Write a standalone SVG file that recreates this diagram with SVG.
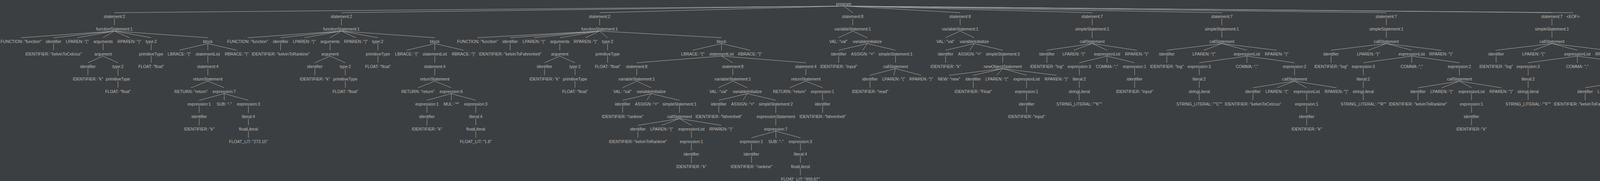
<svg xmlns="http://www.w3.org/2000/svg" width="4304" height="463" viewBox="0 0 4304 463">
<style>
text{font-family:"Liberation Sans",Arial,sans-serif;font-size:10.5px;fill:#bbbbbb;text-anchor:middle}
#edges line{stroke:#adadad;stroke-width:1}
</style>
<rect width="4304" height="463" fill="#3c3f41"/>
<g id="edges">
<line x1="2160" y1="15.5" x2="293" y2="32.5"/><line x1="2160" y1="15.5" x2="874" y2="32.5"/><line x1="2160" y1="15.5" x2="1535" y2="32.5"/><line x1="2160" y1="15.5" x2="2183" y2="32.5"/><line x1="2160" y1="15.5" x2="2458" y2="32.5"/><line x1="2160" y1="15.5" x2="2796" y2="32.5"/><line x1="2160" y1="15.5" x2="3128" y2="32.5"/><line x1="2160" y1="15.5" x2="3549" y2="32.5"/><line x1="2160" y1="15.5" x2="3973" y2="32.5"/><line x1="2160" y1="15.5" x2="4027" y2="32.5"/>
<line x1="293" y1="47.5" x2="293" y2="64.5"/>
<line x1="293" y1="79.5" x2="54" y2="96.5"/><line x1="293" y1="79.5" x2="137" y2="96.5"/><line x1="293" y1="79.5" x2="198" y2="96.5"/><line x1="293" y1="79.5" x2="264" y2="96.5"/><line x1="293" y1="79.5" x2="331" y2="96.5"/><line x1="293" y1="79.5" x2="387" y2="96.5"/><line x1="293" y1="79.5" x2="532" y2="96.5"/>
<line x1="137" y1="111.5" x2="137" y2="128.5"/><line x1="264" y1="111.5" x2="264" y2="128.5"/><line x1="387" y1="111.5" x2="387" y2="128.5"/>
<line x1="532" y1="111.5" x2="459" y2="128.5"/><line x1="532" y1="111.5" x2="532" y2="128.5"/><line x1="532" y1="111.5" x2="606" y2="128.5"/>
<line x1="264" y1="143.5" x2="225" y2="160.5"/><line x1="264" y1="143.5" x2="302" y2="160.5"/><line x1="387" y1="143.5" x2="387" y2="160.5"/><line x1="532" y1="143.5" x2="532" y2="160.5"/>
<line x1="225" y1="175.5" x2="225" y2="192.5"/><line x1="302" y1="175.5" x2="302" y2="192.5"/><line x1="532" y1="175.5" x2="532" y2="192.5"/>
<line x1="302" y1="207.5" x2="302" y2="224.5"/><line x1="532" y1="207.5" x2="489" y2="224.5"/><line x1="532" y1="207.5" x2="574" y2="224.5"/>
<line x1="574" y1="239.5" x2="510" y2="256.5"/><line x1="574" y1="239.5" x2="574" y2="256.5"/><line x1="574" y1="239.5" x2="636" y2="256.5"/>
<line x1="510" y1="271.5" x2="510" y2="288.5"/><line x1="636" y1="271.5" x2="636" y2="288.5"/>
<line x1="510" y1="303.5" x2="510" y2="320.5"/><line x1="636" y1="303.5" x2="636" y2="320.5"/>
<line x1="636" y1="335.5" x2="636" y2="352.5"/>
<line x1="874" y1="47.5" x2="874" y2="64.5"/>
<line x1="874" y1="79.5" x2="634" y2="96.5"/><line x1="874" y1="79.5" x2="718.5" y2="96.5"/><line x1="874" y1="79.5" x2="779" y2="96.5"/><line x1="874" y1="79.5" x2="845" y2="96.5"/><line x1="874" y1="79.5" x2="911" y2="96.5"/><line x1="874" y1="79.5" x2="967" y2="96.5"/><line x1="874" y1="79.5" x2="1113" y2="96.5"/>
<line x1="718.5" y1="111.5" x2="718.5" y2="128.5"/><line x1="845" y1="111.5" x2="845" y2="128.5"/><line x1="967" y1="111.5" x2="967.5" y2="128.5"/>
<line x1="1113" y1="111.5" x2="1041" y2="128.5"/><line x1="1113" y1="111.5" x2="1113" y2="128.5"/><line x1="1113" y1="111.5" x2="1187" y2="128.5"/>
<line x1="845" y1="143.5" x2="806" y2="160.5"/><line x1="845" y1="143.5" x2="884" y2="160.5"/><line x1="967.5" y1="143.5" x2="967.5" y2="160.5"/><line x1="1113" y1="143.5" x2="1113" y2="160.5"/>
<line x1="806" y1="175.5" x2="806" y2="192.5"/><line x1="884" y1="175.5" x2="884" y2="192.5"/><line x1="1113" y1="175.5" x2="1113" y2="192.5"/>
<line x1="884" y1="207.5" x2="884" y2="224.5"/><line x1="1113" y1="207.5" x2="1070" y2="224.5"/><line x1="1113" y1="207.5" x2="1155" y2="224.5"/>
<line x1="1155" y1="239.5" x2="1093" y2="256.5"/><line x1="1155" y1="239.5" x2="1155.5" y2="256.5"/><line x1="1155" y1="239.5" x2="1218" y2="256.5"/>
<line x1="1093" y1="271.5" x2="1093" y2="288.5"/><line x1="1218" y1="271.5" x2="1218" y2="288.5"/>
<line x1="1093" y1="303.5" x2="1093" y2="320.5"/><line x1="1218" y1="303.5" x2="1218" y2="320.5"/>
<line x1="1218" y1="335.5" x2="1218" y2="352.5"/>
<line x1="1535" y1="47.5" x2="1535" y2="64.5"/>
<line x1="1535" y1="79.5" x2="1222.5" y2="96.5"/><line x1="1535" y1="79.5" x2="1306" y2="96.5"/><line x1="1535" y1="79.5" x2="1367" y2="96.5"/><line x1="1535" y1="79.5" x2="1433" y2="96.5"/><line x1="1535" y1="79.5" x2="1499" y2="96.5"/><line x1="1535" y1="79.5" x2="1555.5" y2="96.5"/><line x1="1535" y1="79.5" x2="1847" y2="96.5"/>
<line x1="1306" y1="111.5" x2="1306" y2="128.5"/><line x1="1433" y1="111.5" x2="1433" y2="128.5"/><line x1="1555.5" y1="111.5" x2="1555.5" y2="128.5"/>
<line x1="1847" y1="111.5" x2="1773.5" y2="128.5"/><line x1="1847" y1="111.5" x2="1847" y2="128.5"/><line x1="1847" y1="111.5" x2="1920" y2="128.5"/>
<line x1="1433" y1="143.5" x2="1394" y2="160.5"/><line x1="1433" y1="143.5" x2="1472" y2="160.5"/><line x1="1555.5" y1="143.5" x2="1555.5" y2="160.5"/>
<line x1="1847" y1="143.5" x2="1630" y2="160.5"/><line x1="1847" y1="143.5" x2="1876" y2="160.5"/><line x1="1847" y1="143.5" x2="2063" y2="160.5"/>
<line x1="1394" y1="175.5" x2="1394" y2="192.5"/><line x1="1472" y1="175.5" x2="1472" y2="192.5"/><line x1="1630" y1="175.5" x2="1630" y2="192.5"/><line x1="1876" y1="175.5" x2="1876" y2="192.5"/><line x1="2063" y1="175.5" x2="2063" y2="192.5"/>
<line x1="1472" y1="207.5" x2="1472" y2="224.5"/>
<line x1="1630" y1="207.5" x2="1593.5" y2="224.5"/><line x1="1630" y1="207.5" x2="1667" y2="224.5"/>
<line x1="1876" y1="207.5" x2="1839.3" y2="224.5"/><line x1="1876" y1="207.5" x2="1913" y2="224.5"/>
<line x1="2063" y1="207.5" x2="2021.5" y2="224.5"/><line x1="2063" y1="207.5" x2="2105.5" y2="224.5"/>
<line x1="1667" y1="239.5" x2="1594" y2="256.5"/><line x1="1667" y1="239.5" x2="1655.7" y2="256.5"/><line x1="1667" y1="239.5" x2="1739.5" y2="256.5"/>
<line x1="1913" y1="239.5" x2="1840" y2="256.5"/><line x1="1913" y1="239.5" x2="1901.7" y2="256.5"/><line x1="1913" y1="239.5" x2="1986" y2="256.5"/>
<line x1="2105.5" y1="239.5" x2="2106" y2="256.5"/>
<line x1="1594" y1="271.5" x2="1594" y2="288.5"/><line x1="1739.5" y1="271.5" x2="1739.5" y2="288.5"/><line x1="1840" y1="271.5" x2="1840" y2="288.5"/><line x1="1986" y1="271.5" x2="1986" y2="288.5"/><line x1="2106" y1="271.5" x2="2106" y2="288.5"/>
<line x1="1739.5" y1="303.5" x2="1633" y2="320.5"/><line x1="1739.5" y1="303.5" x2="1694" y2="320.5"/><line x1="1739.5" y1="303.5" x2="1770" y2="320.5"/><line x1="1739.5" y1="303.5" x2="1846.3" y2="320.5"/>
<line x1="1986" y1="303.5" x2="1986" y2="320.5"/>
<line x1="1633" y1="335.5" x2="1633" y2="352.5"/><line x1="1770" y1="335.5" x2="1770" y2="352.5"/>
<line x1="1986" y1="335.5" x2="1923.5" y2="352.5"/><line x1="1986" y1="335.5" x2="1986.5" y2="352.5"/><line x1="1986" y1="335.5" x2="2049" y2="352.5"/>
<line x1="1770" y1="367.5" x2="1770" y2="384.5"/><line x1="1923.5" y1="367.5" x2="1923.7" y2="384.5"/><line x1="2049" y1="367.5" x2="2049" y2="384.5"/>
<line x1="1770" y1="399.5" x2="1770" y2="416.5"/><line x1="1923.7" y1="399.5" x2="1923.8" y2="416.5"/><line x1="2049" y1="399.5" x2="2049" y2="416.5"/>
<line x1="2049" y1="431.5" x2="2049" y2="448.5"/>
<line x1="2183" y1="47.5" x2="2183" y2="64.5"/>
<line x1="2183" y1="79.5" x2="2146.2" y2="96.5"/><line x1="2183" y1="79.5" x2="2220" y2="96.5"/>
<line x1="2220" y1="111.5" x2="2147" y2="128.5"/><line x1="2220" y1="111.5" x2="2208.7" y2="128.5"/><line x1="2220" y1="111.5" x2="2292.5" y2="128.5"/>
<line x1="2147" y1="143.5" x2="2147" y2="160.5"/><line x1="2292.5" y1="143.5" x2="2292.5" y2="160.5"/>
<line x1="2292.5" y1="175.5" x2="2227" y2="192.5"/><line x1="2292.5" y1="175.5" x2="2288" y2="192.5"/><line x1="2292.5" y1="175.5" x2="2358" y2="192.5"/>
<line x1="2227" y1="207.5" x2="2227.5" y2="224.5"/>
<line x1="2458" y1="47.5" x2="2458" y2="64.5"/>
<line x1="2458" y1="79.5" x2="2420.2" y2="96.5"/><line x1="2458" y1="79.5" x2="2494" y2="96.5"/>
<line x1="2494" y1="111.5" x2="2420.7" y2="128.5"/><line x1="2494" y1="111.5" x2="2482.5" y2="128.5"/><line x1="2494" y1="111.5" x2="2567" y2="128.5"/>
<line x1="2420.7" y1="143.5" x2="2420.8" y2="160.5"/><line x1="2567" y1="143.5" x2="2567" y2="160.5"/>
<line x1="2567" y1="175.5" x2="2429.5" y2="192.5"/><line x1="2567" y1="175.5" x2="2491.5" y2="192.5"/><line x1="2567" y1="175.5" x2="2552" y2="192.5"/><line x1="2567" y1="175.5" x2="2628" y2="192.5"/><line x1="2567" y1="175.5" x2="2704.5" y2="192.5"/>
<line x1="2491.5" y1="207.5" x2="2491.5" y2="224.5"/><line x1="2628" y1="207.5" x2="2628" y2="224.5"/>
<line x1="2628" y1="239.5" x2="2628" y2="256.5"/><line x1="2628" y1="271.5" x2="2628" y2="288.5"/>
<line x1="2796" y1="47.5" x2="2796" y2="64.5"/><line x1="2796" y1="79.5" x2="2796" y2="96.5"/>
<line x1="2796" y1="111.5" x2="2680" y2="128.5"/><line x1="2796" y1="111.5" x2="2749" y2="128.5"/><line x1="2796" y1="111.5" x2="2834" y2="128.5"/><line x1="2796" y1="111.5" x2="2910.3" y2="128.5"/>
<line x1="2680" y1="143.5" x2="2680" y2="160.5"/>
<line x1="2834" y1="143.5" x2="2763" y2="160.5"/><line x1="2834" y1="143.5" x2="2834" y2="160.5"/><line x1="2834" y1="143.5" x2="2904.5" y2="160.5"/>
<line x1="2763" y1="175.5" x2="2763" y2="192.5"/><line x1="2904.5" y1="175.5" x2="2904.7" y2="192.5"/>
<line x1="2763" y1="207.5" x2="2763" y2="224.5"/><line x1="2904.7" y1="207.5" x2="2904.7" y2="224.5"/>
<line x1="2763" y1="239.5" x2="2762.5" y2="256.5"/>
<line x1="3128" y1="47.5" x2="3128" y2="64.5"/><line x1="3128" y1="79.5" x2="3128" y2="96.5"/>
<line x1="3128" y1="111.5" x2="2987" y2="128.5"/><line x1="3128" y1="111.5" x2="3082" y2="128.5"/><line x1="3128" y1="111.5" x2="3192" y2="128.5"/><line x1="3128" y1="111.5" x2="3268.3" y2="128.5"/>
<line x1="2987" y1="143.5" x2="2987" y2="160.5"/>
<line x1="3192" y1="143.5" x2="3070" y2="160.5"/><line x1="3192" y1="143.5" x2="3192" y2="160.5"/><line x1="3192" y1="143.5" x2="3314" y2="160.5"/>
<line x1="3070" y1="175.5" x2="3070" y2="192.5"/><line x1="3314" y1="175.5" x2="3314" y2="192.5"/>
<line x1="3070" y1="207.5" x2="3070" y2="224.5"/>
<line x1="3314" y1="207.5" x2="3207.5" y2="224.5"/><line x1="3314" y1="207.5" x2="3269" y2="224.5"/><line x1="3314" y1="207.5" x2="3345" y2="224.5"/><line x1="3314" y1="207.5" x2="3421.5" y2="224.5"/>
<line x1="3070" y1="239.5" x2="3070" y2="256.5"/><line x1="3207.5" y1="239.5" x2="3207.5" y2="256.5"/><line x1="3345" y1="239.5" x2="3345" y2="256.5"/>
<line x1="3345" y1="271.5" x2="3345" y2="288.5"/><line x1="3345" y1="303.5" x2="3345" y2="320.5"/>
<line x1="3549" y1="47.5" x2="3549" y2="64.5"/><line x1="3549" y1="79.5" x2="3549" y2="96.5"/>
<line x1="3549" y1="111.5" x2="3407.5" y2="128.5"/><line x1="3549" y1="111.5" x2="3503" y2="128.5"/><line x1="3549" y1="111.5" x2="3614" y2="128.5"/><line x1="3549" y1="111.5" x2="3689.3" y2="128.5"/>
<line x1="3407.5" y1="143.5" x2="3407.5" y2="160.5"/>
<line x1="3614" y1="143.5" x2="3490" y2="160.5"/><line x1="3614" y1="143.5" x2="3614" y2="160.5"/><line x1="3614" y1="143.5" x2="3736" y2="160.5"/>
<line x1="3490" y1="175.5" x2="3490" y2="192.5"/><line x1="3736" y1="175.5" x2="3736.3" y2="192.5"/>
<line x1="3490" y1="207.5" x2="3490" y2="224.5"/>
<line x1="3736.3" y1="207.5" x2="3630" y2="224.5"/><line x1="3736.3" y1="207.5" x2="3691" y2="224.5"/><line x1="3736.3" y1="207.5" x2="3767" y2="224.5"/><line x1="3736.3" y1="207.5" x2="3843.3" y2="224.5"/>
<line x1="3490" y1="239.5" x2="3490.5" y2="256.5"/><line x1="3630" y1="239.5" x2="3630" y2="256.5"/><line x1="3767" y1="239.5" x2="3767" y2="256.5"/>
<line x1="3767" y1="271.5" x2="3767" y2="288.5"/><line x1="3767" y1="303.5" x2="3767" y2="320.5"/>
<line x1="3973" y1="47.5" x2="3973" y2="64.5"/><line x1="3973" y1="79.5" x2="3973" y2="96.5"/>
<line x1="3973" y1="111.5" x2="3830" y2="128.5"/><line x1="3973" y1="111.5" x2="3926" y2="128.5"/><line x1="3973" y1="111.5" x2="4038" y2="128.5"/><line x1="3973" y1="111.5" x2="4114.5" y2="128.5"/>
<line x1="3830" y1="143.5" x2="3830" y2="160.5"/>
<line x1="4038" y1="143.5" x2="3912" y2="160.5"/><line x1="4038" y1="143.5" x2="4038" y2="160.5"/><line x1="4038" y1="143.5" x2="4164" y2="160.5"/>
<line x1="3912" y1="175.5" x2="3912" y2="192.5"/><line x1="4164" y1="175.5" x2="4164" y2="192.5"/>
<line x1="3912" y1="207.5" x2="3912" y2="224.5"/>
<line x1="4164" y1="207.5" x2="4058" y2="224.5"/><line x1="4164" y1="207.5" x2="4119" y2="224.5"/><line x1="4164" y1="207.5" x2="4195" y2="224.5"/><line x1="4164" y1="207.5" x2="4271.3" y2="224.5"/>
<line x1="3912" y1="239.5" x2="3912" y2="256.5"/><line x1="4058" y1="239.5" x2="4058" y2="256.5"/><line x1="4195" y1="239.5" x2="4195" y2="256.5"/>
<line x1="4195" y1="271.5" x2="4195" y2="288.5"/><line x1="4195" y1="303.5" x2="4195" y2="320.5"/>
</g>
<g id="nodes">
<g id="n0"><text x="2160" y="14">program</text></g>
<g id="n1"><text x="293" y="46">statement:2</text></g>
<g id="n2"><text x="293" y="78">functionStatement:1</text></g>
<g id="n3"><text x="54" y="110">FUNCTION:·"function"</text></g>
<g id="n4"><text x="137" y="110">identifier</text></g>
<g id="n5"><text x="198" y="110">LPAREN:·"("</text></g>
<g id="n6"><text x="264" y="110">arguments</text></g>
<g id="n7"><text x="331" y="110">RPAREN:·")"</text></g>
<g id="n8"><text x="387" y="110">type:2</text></g>
<g id="n9"><text x="532" y="110">block</text></g>
<g id="n10"><text x="137" y="142">IDENTIFIER:·"kelvinToCelcius"</text></g>
<g id="n11"><text x="264" y="142">argument</text></g>
<g id="n12"><text x="225" y="174">identifier</text></g>
<g id="n13"><text x="302" y="174">type:2</text></g>
<g id="n14"><text x="225" y="206">IDENTIFIER:·"k"</text></g>
<g id="n15"><text x="302" y="206">primitiveType</text></g>
<g id="n16"><text x="302" y="238">FLOAT:·"float"</text></g>
<g id="n17"><text x="387" y="142">primitiveType</text></g>
<g id="n18"><text x="387" y="174">FLOAT:·"float"</text></g>
<g id="n19"><text x="459" y="142">LBRACE:·"{"</text></g>
<g id="n20"><text x="532" y="142">statementList</text></g>
<g id="n21"><text x="606" y="142">RBRACE:·"}"</text></g>
<g id="n22"><text x="532" y="174">statement:4</text></g>
<g id="n23"><text x="532" y="206">returnStatement</text></g>
<g id="n24"><text x="489" y="238">RETURN:·"return"</text></g>
<g id="n25"><text x="574" y="238">expression:7</text></g>
<g id="n26"><text x="510" y="270">expression:1</text></g>
<g id="n27"><text x="574" y="270">SUB:·"-"</text></g>
<g id="n28"><text x="636" y="270">expression:3</text></g>
<g id="n29"><text x="510" y="302">identifier</text></g>
<g id="n30"><text x="510" y="334">IDENTIFIER:·"k"</text></g>
<g id="n31"><text x="636" y="302">literal:4</text></g>
<g id="n32"><text x="636" y="334">floatLiteral</text></g>
<g id="n33"><text x="636" y="366">FLOAT_LIT:·"273.15"</text></g>
<g id="n34"><text x="874" y="46">statement:2</text></g>
<g id="n35"><text x="874" y="78">functionStatement:1</text></g>
<g id="n36"><text x="634" y="110">FUNCTION:·"function"</text></g>
<g id="n37"><text x="718.5" y="110">identifier</text></g>
<g id="n38"><text x="779" y="110">LPAREN:·"("</text></g>
<g id="n39"><text x="845" y="110">arguments</text></g>
<g id="n40"><text x="911" y="110">RPAREN:·")"</text></g>
<g id="n41"><text x="967" y="110">type:2</text></g>
<g id="n42"><text x="1113" y="110">block</text></g>
<g id="n43"><text x="718.5" y="142">IDENTIFIER:·"kelvinToRankine"</text></g>
<g id="n44"><text x="845" y="142">argument</text></g>
<g id="n45"><text x="806" y="174">identifier</text></g>
<g id="n46"><text x="884" y="174">type:2</text></g>
<g id="n47"><text x="806" y="206">IDENTIFIER:·"k"</text></g>
<g id="n48"><text x="884" y="206">primitiveType</text></g>
<g id="n49"><text x="884" y="238">FLOAT:·"float"</text></g>
<g id="n50"><text x="967.5" y="142">primitiveType</text></g>
<g id="n51"><text x="967.5" y="174">FLOAT:·"float"</text></g>
<g id="n52"><text x="1041" y="142">LBRACE:·"{"</text></g>
<g id="n53"><text x="1113" y="142">statementList</text></g>
<g id="n54"><text x="1187" y="142">RBRACE:·"}"</text></g>
<g id="n55"><text x="1113" y="174">statement:4</text></g>
<g id="n56"><text x="1113" y="206">returnStatement</text></g>
<g id="n57"><text x="1070" y="238">RETURN:·"return"</text></g>
<g id="n58"><text x="1155" y="238">expression:6</text></g>
<g id="n59"><text x="1093" y="270">expression:1</text></g>
<g id="n60"><text x="1155.5" y="270">MUL:·"*"</text></g>
<g id="n61"><text x="1218" y="270">expression:3</text></g>
<g id="n62"><text x="1093" y="302">identifier</text></g>
<g id="n63"><text x="1093" y="334">IDENTIFIER:·"k"</text></g>
<g id="n64"><text x="1218" y="302">literal:4</text></g>
<g id="n65"><text x="1218" y="334">floatLiteral</text></g>
<g id="n66"><text x="1218" y="366">FLOAT_LIT:·"1.8"</text></g>
<g id="n67"><text x="1535" y="46">statement:2</text></g>
<g id="n68"><text x="1535" y="78">functionStatement:1</text></g>
<g id="n69"><text x="1222.5" y="110">FUNCTION:·"function"</text></g>
<g id="n70"><text x="1306" y="110">identifier</text></g>
<g id="n71"><text x="1367" y="110">LPAREN:·"("</text></g>
<g id="n72"><text x="1433" y="110">arguments</text></g>
<g id="n73"><text x="1499" y="110">RPAREN:·")"</text></g>
<g id="n74"><text x="1555.5" y="110">type:2</text></g>
<g id="n75"><text x="1847" y="110">block</text></g>
<g id="n76"><text x="1306" y="142">IDENTIFIER:·"kelvinToFahrenheit"</text></g>
<g id="n77"><text x="1433" y="142">argument</text></g>
<g id="n78"><text x="1394" y="174">identifier</text></g>
<g id="n79"><text x="1472" y="174">type:2</text></g>
<g id="n80"><text x="1394" y="206">IDENTIFIER:·"k"</text></g>
<g id="n81"><text x="1472" y="206">primitiveType</text></g>
<g id="n82"><text x="1472" y="238">FLOAT:·"float"</text></g>
<g id="n83"><text x="1555.5" y="142">primitiveType</text></g>
<g id="n84"><text x="1555.5" y="174">FLOAT:·"float"</text></g>
<g id="n85"><text x="1773.5" y="142">LBRACE:·"{"</text></g>
<g id="n86"><text x="1847" y="142">statementList</text></g>
<g id="n87"><text x="1920" y="142">RBRACE:·"}"</text></g>
<g id="n88"><text x="1630" y="174">statement:8</text></g>
<g id="n89"><text x="1630" y="206">variableStatement:1</text></g>
<g id="n90"><text x="1593.5" y="238">VAL:·"val"</text></g>
<g id="n91"><text x="1667" y="238">variableInitialize</text></g>
<g id="n92"><text x="1594" y="270">identifier</text></g>
<g id="n93"><text x="1655.7" y="270">ASSIGN:·"="</text></g>
<g id="n94"><text x="1739.5" y="270">simpleStatement:1</text></g>
<g id="n95"><text x="1594" y="302">IDENTIFIER:·"rankine"</text></g>
<g id="n96"><text x="1739.5" y="302">callStatement</text></g>
<g id="n97"><text x="1633" y="334">identifier</text></g>
<g id="n98"><text x="1694" y="334">LPAREN:·"("</text></g>
<g id="n99"><text x="1770" y="334">expressionList</text></g>
<g id="n100"><text x="1846.3" y="334">RPAREN:·")"</text></g>
<g id="n101"><text x="1633" y="366">IDENTIFIER:·"kelvinToRankine"</text></g>
<g id="n102"><text x="1770" y="366">expression:1</text></g>
<g id="n103"><text x="1770" y="398">identifier</text></g>
<g id="n104"><text x="1770" y="430">IDENTIFIER:·"k"</text></g>
<g id="n105"><text x="1876" y="174">statement:8</text></g>
<g id="n106"><text x="1876" y="206">variableStatement:1</text></g>
<g id="n107"><text x="1839.3" y="238">VAL:·"val"</text></g>
<g id="n108"><text x="1913" y="238">variableInitialize</text></g>
<g id="n109"><text x="1840" y="270">identifier</text></g>
<g id="n110"><text x="1901.7" y="270">ASSIGN:·"="</text></g>
<g id="n111"><text x="1986" y="270">simpleStatement:2</text></g>
<g id="n112"><text x="1840" y="302">IDENTIFIER:·"fahrenheit"</text></g>
<g id="n113"><text x="1986" y="302">expressionStatement</text></g>
<g id="n114"><text x="1986" y="334">expression:7</text></g>
<g id="n115"><text x="1923.5" y="366">expression:1</text></g>
<g id="n116"><text x="1986.5" y="366">SUB:·"-"</text></g>
<g id="n117"><text x="2049" y="366">expression:3</text></g>
<g id="n118"><text x="1923.7" y="398">identifier</text></g>
<g id="n119"><text x="1923.8" y="430">IDENTIFIER:·"rankine"</text></g>
<g id="n120"><text x="2049" y="398">literal:4</text></g>
<g id="n121"><text x="2049" y="430">floatLiteral</text></g>
<g id="n122"><text x="2049" y="462">FLOAT_LIT:·"459.67"</text></g>
<g id="n123"><text x="2063" y="174">statement:4</text></g>
<g id="n124"><text x="2063" y="206">returnStatement</text></g>
<g id="n125"><text x="2021.5" y="238">RETURN:·"return"</text></g>
<g id="n126"><text x="2105.5" y="238">expression:1</text></g>
<g id="n127"><text x="2106" y="270">identifier</text></g>
<g id="n128"><text x="2106" y="302">IDENTIFIER:·"fahrenheit"</text></g>
<g id="n129"><text x="2183" y="46">statement:8</text></g>
<g id="n130"><text x="2183" y="78">variableStatement:1</text></g>
<g id="n131"><text x="2146.2" y="110">VAL:·"val"</text></g>
<g id="n132"><text x="2220" y="110">variableInitialize</text></g>
<g id="n133"><text x="2147" y="142">identifier</text></g>
<g id="n134"><text x="2208.7" y="142">ASSIGN:·"="</text></g>
<g id="n135"><text x="2292.5" y="142">simpleStatement:1</text></g>
<g id="n136"><text x="2147" y="174">IDENTIFIER:·"input"</text></g>
<g id="n137"><text x="2292.5" y="174">callStatement</text></g>
<g id="n138"><text x="2227" y="206">identifier</text></g>
<g id="n139"><text x="2288" y="206">LPAREN:·"("</text></g>
<g id="n140"><text x="2358" y="206">RPAREN:·")"</text></g>
<g id="n141"><text x="2227.5" y="238">IDENTIFIER:·"read"</text></g>
<g id="n142"><text x="2458" y="46">statement:8</text></g>
<g id="n143"><text x="2458" y="78">variableStatement:1</text></g>
<g id="n144"><text x="2420.2" y="110">VAL:·"val"</text></g>
<g id="n145"><text x="2494" y="110">variableInitialize</text></g>
<g id="n146"><text x="2420.7" y="142">identifier</text></g>
<g id="n147"><text x="2482.5" y="142">ASSIGN:·"="</text></g>
<g id="n148"><text x="2567" y="142">simpleStatement:3</text></g>
<g id="n149"><text x="2420.8" y="174">IDENTIFIER:·"k"</text></g>
<g id="n150"><text x="2567" y="174">newObjectStatement</text></g>
<g id="n151"><text x="2429.5" y="206">NEW:·"new"</text></g>
<g id="n152"><text x="2491.5" y="206">identifier</text></g>
<g id="n153"><text x="2552" y="206">LPAREN:·"("</text></g>
<g id="n154"><text x="2628" y="206">expressionList</text></g>
<g id="n155"><text x="2704.5" y="206">RPAREN:·")"</text></g>
<g id="n156"><text x="2491.5" y="238">IDENTIFIER:·"Float"</text></g>
<g id="n157"><text x="2628" y="238">expression:1</text></g>
<g id="n158"><text x="2628" y="270">identifier</text></g>
<g id="n159"><text x="2628" y="302">IDENTIFIER:·"input"</text></g>
<g id="n160"><text x="2796" y="46">statement:7</text></g>
<g id="n161"><text x="2796" y="78">simpleStatement:1</text></g>
<g id="n162"><text x="2796" y="110">callStatement</text></g>
<g id="n163"><text x="2680" y="142">identifier</text></g>
<g id="n164"><text x="2749" y="142">LPAREN:·"("</text></g>
<g id="n165"><text x="2834" y="142">expressionList</text></g>
<g id="n166"><text x="2910.3" y="142">RPAREN:·")"</text></g>
<g id="n167"><text x="2680" y="174">IDENTIFIER:·"log"</text></g>
<g id="n168"><text x="2763" y="174">expression:3</text></g>
<g id="n169"><text x="2834" y="174">COMMA:·","</text></g>
<g id="n170"><text x="2904.5" y="174">expression:1</text></g>
<g id="n171"><text x="2763" y="206">literal:2</text></g>
<g id="n172"><text x="2763" y="238">stringLiteral</text></g>
<g id="n173"><text x="2762.5" y="270">STRING_LITERAL:·""K""</text></g>
<g id="n174"><text x="2904.7" y="206">identifier</text></g>
<g id="n175"><text x="2904.7" y="238">IDENTIFIER:·"input"</text></g>
<g id="n176"><text x="3128" y="46">statement:7</text></g>
<g id="n177"><text x="3128" y="78">simpleStatement:1</text></g>
<g id="n178"><text x="3128" y="110">callStatement</text></g>
<g id="n179"><text x="2987" y="142">identifier</text></g>
<g id="n180"><text x="3082" y="142">LPAREN:·"("</text></g>
<g id="n181"><text x="3192" y="142">expressionList</text></g>
<g id="n182"><text x="3268.3" y="142">RPAREN:·")"</text></g>
<g id="n183"><text x="2987" y="174">IDENTIFIER:·"log"</text></g>
<g id="n184"><text x="3070" y="174">expression:3</text></g>
<g id="n185"><text x="3192" y="174">COMMA:·","</text></g>
<g id="n186"><text x="3314" y="174">expression:2</text></g>
<g id="n187"><text x="3070" y="206">literal:2</text></g>
<g id="n188"><text x="3070" y="238">stringLiteral</text></g>
<g id="n189"><text x="3070" y="270">STRING_LITERAL:·""C""</text></g>
<g id="n190"><text x="3314" y="206">callStatement</text></g>
<g id="n191"><text x="3207.5" y="238">identifier</text></g>
<g id="n192"><text x="3269" y="238">LPAREN:·"("</text></g>
<g id="n193"><text x="3345" y="238">expressionList</text></g>
<g id="n194"><text x="3421.5" y="238">RPAREN:·")"</text></g>
<g id="n195"><text x="3207.5" y="270">IDENTIFIER:·"kelvinToCelcius"</text></g>
<g id="n196"><text x="3345" y="270">expression:1</text></g>
<g id="n197"><text x="3345" y="302">identifier</text></g>
<g id="n198"><text x="3345" y="334">IDENTIFIER:·"k"</text></g>
<g id="n199"><text x="3549" y="46">statement:7</text></g>
<g id="n200"><text x="3549" y="78">simpleStatement:1</text></g>
<g id="n201"><text x="3549" y="110">callStatement</text></g>
<g id="n202"><text x="3407.5" y="142">identifier</text></g>
<g id="n203"><text x="3503" y="142">LPAREN:·"("</text></g>
<g id="n204"><text x="3614" y="142">expressionList</text></g>
<g id="n205"><text x="3689.3" y="142">RPAREN:·")"</text></g>
<g id="n206"><text x="3407.5" y="174">IDENTIFIER:·"log"</text></g>
<g id="n207"><text x="3490" y="174">expression:3</text></g>
<g id="n208"><text x="3614" y="174">COMMA:·","</text></g>
<g id="n209"><text x="3736" y="174">expression:2</text></g>
<g id="n210"><text x="3490" y="206">literal:2</text></g>
<g id="n211"><text x="3490" y="238">stringLiteral</text></g>
<g id="n212"><text x="3490.5" y="270">STRING_LITERAL:·""R""</text></g>
<g id="n213"><text x="3736.3" y="206">callStatement</text></g>
<g id="n214"><text x="3630" y="238">identifier</text></g>
<g id="n215"><text x="3691" y="238">LPAREN:·"("</text></g>
<g id="n216"><text x="3767" y="238">expressionList</text></g>
<g id="n217"><text x="3843.3" y="238">RPAREN:·")"</text></g>
<g id="n218"><text x="3630" y="270">IDENTIFIER:·"kelvinToRankine"</text></g>
<g id="n219"><text x="3767" y="270">expression:1</text></g>
<g id="n220"><text x="3767" y="302">identifier</text></g>
<g id="n221"><text x="3767" y="334">IDENTIFIER:·"k"</text></g>
<g id="n222"><text x="3973" y="46">statement:7</text></g>
<g id="n223"><text x="3973" y="78">simpleStatement:1</text></g>
<g id="n224"><text x="3973" y="110">callStatement</text></g>
<g id="n225"><text x="3830" y="142">identifier</text></g>
<g id="n226"><text x="3926" y="142">LPAREN:·"("</text></g>
<g id="n227"><text x="4038" y="142">expressionList</text></g>
<g id="n228"><text x="4114.5" y="142">RPAREN:·")"</text></g>
<g id="n229"><text x="3830" y="174">IDENTIFIER:·"log"</text></g>
<g id="n230"><text x="3912" y="174">expression:3</text></g>
<g id="n231"><text x="4038" y="174">COMMA:·","</text></g>
<g id="n232"><text x="4164" y="174">expression:2</text></g>
<g id="n233"><text x="3912" y="206">literal:2</text></g>
<g id="n234"><text x="3912" y="238">stringLiteral</text></g>
<g id="n235"><text x="3912" y="270">STRING_LITERAL:·""F""</text></g>
<g id="n236"><text x="4164" y="206">callStatement</text></g>
<g id="n237"><text x="4058" y="238">identifier</text></g>
<g id="n238"><text x="4119" y="238">LPAREN:·"("</text></g>
<g id="n239"><text x="4195" y="238">expressionList</text></g>
<g id="n240"><text x="4271.3" y="238">RPAREN:·")"</text></g>
<g id="n241"><text x="4058" y="270">IDENTIFIER:·"kelvinToFahrenheit"</text></g>
<g id="n242"><text x="4195" y="270">expression:1</text></g>
<g id="n243"><text x="4195" y="302">identifier</text></g>
<g id="n244"><text x="4195" y="334">IDENTIFIER:·"k"</text></g>
<g id="n245"><text x="4027" y="46">&lt;EOF&gt;</text></g>
</g>
</svg>
